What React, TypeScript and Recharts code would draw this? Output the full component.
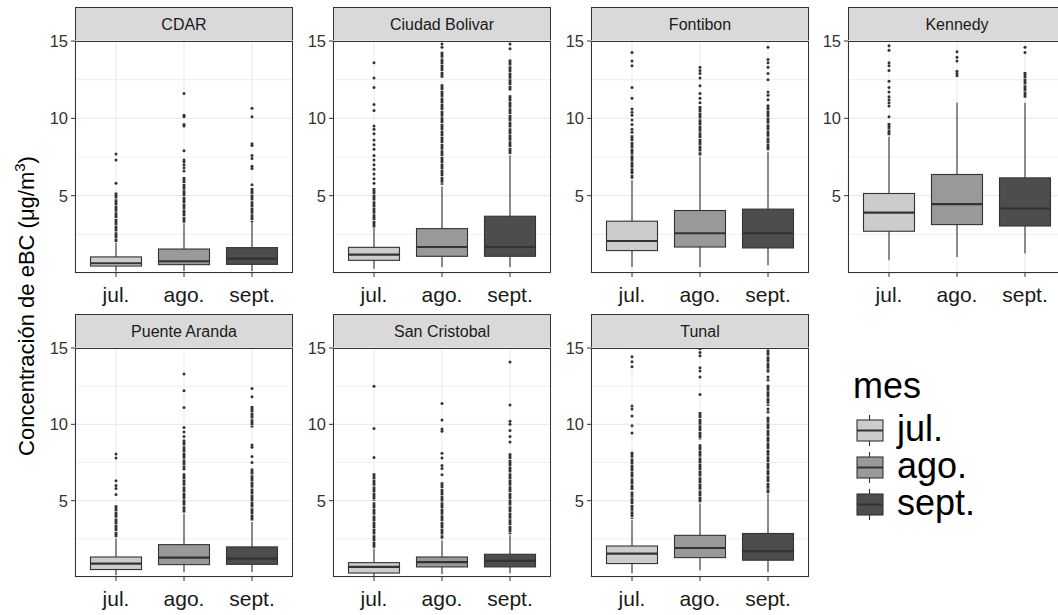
import React from 'react';
import {
  ComposedChart,
  Bar,
  Scatter,
  XAxis,
  YAxis,
  CartesianGrid,
} from 'recharts';

const months = ['jul.', 'ago.', 'sept.'];
const fills = ['#CCCCCC', '#999999', '#4D4D4D'];
const yTicks = [5, 10, 15];
const minorTicks = [2.5, 7.5, 12.5];

// per month: [lower whisker, q1, median, q3, upper whisker]
// runs = stretches where outliers sit packed together, pts = single outliers
const cdarBox = [[0.1, 0.45, 0.63, 1.04, 1.95], [0.12, 0.54, 0.76, 1.55, 3.15], [0.12, 0.56, 0.93, 1.64, 3.3]];
const cdarRuns = [[[2.0, 5.2]], [[3.2, 6.2]], [[3.3, 5.5]]];
const cdarPts = [
  [5.8, 7.3, 7.7],
  [6.6, 6.8, 7.0, 7.2, 7.3, 7.9, 9.5, 9.6, 10.1, 10.2, 11.6],
  [5.7, 6.75, 6.9, 7.4, 7.6, 8.25, 8.35, 10.1, 10.65],
];

const bolivarBox = [[0.28, 0.82, 1.19, 1.66, 2.87], [0.39, 1.08, 1.68, 2.87, 5.6], [0.39, 1.08, 1.68, 3.67, 7.62]];
const bolivarRuns = [[[2.9, 5.5]], [[5.7, 12.2], [12.6, 14.3]], [[7.7, 11.5], [11.8, 13.8]]];
const bolivarPts = [
  [5.8, 6.1, 6.4, 6.7, 7.0, 7.3, 7.6, 8.0, 8.3, 8.6, 9.0, 9.3, 9.5, 10.5, 10.9, 12.0, 12.6, 13.6],
  [14.6, 14.8],
  [14.5, 14.8],
];

const fontibonBox = [[0.39, 1.45, 2.07, 3.35, 6.0], [0.39, 1.68, 2.57, 4.04, 7.51], [0.5, 1.62, 2.57, 4.13, 7.84]];
const fontibonRuns = [[[6.1, 8.9]], [[7.6, 10.8]], [[7.9, 10.9]]];
const fontibonPts = [
  [9.1, 9.3, 9.6, 9.9, 10.2, 10.4, 10.6, 11.3, 12.0, 13.4, 13.7, 14.25],
  [11.0, 11.3, 11.6, 12.1, 12.6, 12.9, 13.1, 13.3],
  [11.2, 11.5, 11.7, 12.5, 12.9, 13.3, 13.6, 13.8, 14.6],
];

const kennedyBox = [[0.82, 2.7, 3.91, 5.14, 8.81], [1.04, 3.13, 4.45, 6.37, 11.0], [1.26, 3.04, 4.17, 6.15, 11.0]];
const kennedyRuns = [[[8.9, 9.7]], [], [[11.3, 13.0]]];
const kennedyPts = [
  [10.1, 10.8, 11.0, 11.2, 11.4, 11.7, 12.0, 12.4, 13.1, 13.4, 13.6, 14.4, 14.7],
  [12.75, 12.9, 13.05, 13.7, 13.95, 14.3],
  [14.25, 14.6],
];

const arandaBox = [[0.11, 0.49, 0.88, 1.31, 2.52], [0.33, 0.81, 1.27, 2.12, 4.16], [0.33, 0.83, 1.2, 1.97, 3.6]];
const arandaRuns = [[[2.6, 4.7]], [[4.2, 6.8], [7.0, 9.0]], [[3.7, 7.1], [9.8, 11.2]]];
const arandaPts = [
  [5.4, 5.8, 6.0, 6.3, 7.8, 8.05],
  [9.2, 9.5, 9.8, 11.1, 12.2, 13.3],
  [7.5, 7.9, 8.5, 8.65, 11.8, 12.35],
];

const cristobalBox = [[0.05, 0.26, 0.66, 0.94, 1.86], [0.2, 0.66, 0.98, 1.31, 2.41], [0.25, 0.66, 1.05, 1.49, 2.73]];
const cristobalRuns = [[[1.9, 4.9], [5.0, 6.8]], [[2.5, 6.2]], [[2.8, 8.1]]];
const cristobalPts = [
  [7.83, 9.73, 12.5],
  [6.7, 7.1, 7.3, 7.8, 8.1, 9.55, 9.7, 10.28, 11.37],
  [8.85, 9.2, 9.6, 10.0, 10.2, 11.26, 14.08],
];

const tunalBox = [[0.26, 0.88, 1.53, 2.03, 3.72], [0.44, 1.27, 1.9, 2.73, 4.81], [0.33, 1.1, 1.7, 2.85, 5.47]];
const tunalRuns = [[[3.8, 5.6], [5.7, 8.2]], [[4.9, 8.7], [9.0, 10.8]], [[5.5, 10.5], [11.2, 12.6], [13.4, 14.9]]];
const tunalPts = [
  [9.44, 9.9, 10.54, 11.0, 11.2, 13.77, 14.1, 14.43],
  [11.95, 13.1, 13.5, 13.7, 14.5, 14.7, 14.95],
  [10.8, 11.0, 12.9, 13.1],
];

const panels = [
  { name: 'CDAR', box: cdarBox, runs: cdarRuns, pts: cdarPts },
  { name: 'Ciudad Bolivar', box: bolivarBox, runs: bolivarRuns, pts: bolivarPts },
  { name: 'Fontibon', box: fontibonBox, runs: fontibonRuns, pts: fontibonPts },
  { name: 'Kennedy', box: kennedyBox, runs: kennedyRuns, pts: kennedyPts },
  { name: 'Puente Aranda', box: arandaBox, runs: arandaRuns, pts: arandaPts },
  { name: 'San Cristobal', box: cristobalBox, runs: cristobalRuns, pts: cristobalPts },
  { name: 'Tunal', box: tunalBox, runs: tunalRuns, pts: tunalPts },
];

const COL_X = [75, 333, 591, 848];
const ROWS = [{ top: 41, h: 232 }, { top: 348, h: 229 }];
const PLOT_W = 218;
const Y_AXIS_W = 40;
const X_AXIS_H = 45;
const TOP_PAD = 12; // room so the "15" label isn't cut by the svg edge
const STRIP_H = 34;
const INK = '#333333';
const FONT = '"Liberation Sans", Arial, sans-serif';

// box + whiskers + packed outliers; the bar spans [lo, hi] so y/height give the scale
function BoxShape(props: any) {
  const { x, y, width, height, payload } = props;
  if (!payload) return null;
  const top = Math.min(y, y + height);
  const h = Math.abs(height);
  const { lo, hi, q1, med, q3, runs, fill } = payload;
  const py = (v: number) => top + ((hi - v) / (hi - lo)) * h;
  const cx = x + width / 2;
  return (
    <g>
      <line x1={cx} x2={cx} y1={py(hi)} y2={py(lo)} stroke={INK} strokeWidth={1.1} />
      {runs.map(([a, b]: number[], i: number) => (
        <line
          key={i}
          x1={cx}
          x2={cx}
          y1={py(b)}
          y2={py(a)}
          stroke={INK}
          strokeWidth={2.8}
          strokeDasharray="6 0.6"
        />
      ))}
      <rect
        x={x}
        y={py(q3)}
        width={width}
        height={py(q1) - py(q3)}
        fill={fill}
        stroke={INK}
        strokeWidth={1.1}
      />
      <line x1={x} x2={x + width} y1={py(med)} y2={py(med)} stroke={INK} strokeWidth={2.2} />
    </g>
  );
}

function OutlierDot(props: any) {
  const { cx, cy } = props;
  if (cx == null || cy == null) return null;
  return <circle cx={cx} cy={cy} r={1.5} fill={INK} />;
}

function Panel({ panel, col, row }: { panel: (typeof panels)[number]; col: number; row: number }) {
  const { top, h } = ROWS[row];
  const left = COL_X[col];
  const rows = months.map((m, i) => {
    const [lo, q1, med, q3, hi] = panel.box[i];
    return { mes: m, range: [lo, hi], lo, q1, med, q3, hi, runs: panel.runs[i], fill: fills[i] };
  });
  const outliers = months.flatMap((m, i) => panel.pts[i].map((v) => ({ mes: m, v })));

  return (
    <>
      <div
        style={{
          position: 'absolute',
          left,
          top: top - STRIP_H,
          width: PLOT_W,
          height: STRIP_H + 1,
          background: '#D9D9D9',
          border: `1px solid ${INK}`,
          boxSizing: 'border-box',
          display: 'flex',
          alignItems: 'center',
          justifyContent: 'center',
          fontSize: 16,
          color: '#1A1A1A',
        }}
      >
        {panel.name}
      </div>
      <div style={{ position: 'absolute', left: left - Y_AXIS_W, top: top - TOP_PAD }}>
        <ComposedChart
          width={Y_AXIS_W + PLOT_W}
          height={h + X_AXIS_H + TOP_PAD}
          data={rows}
          margin={{ top: TOP_PAD, right: 0, bottom: 0, left: 0 }}
          barCategoryGap="12.5%"
        >
          <CartesianGrid stroke="#EBEBEB" strokeWidth={0.8} vertical={false} yAxisId="minor" />
          <CartesianGrid stroke="#EBEBEB" strokeWidth={1.1} />
          <XAxis
            dataKey="mes"
            type="category"
            allowDuplicatedCategory={false}
            padding={{ left: 7, right: 7 }}
            axisLine={false}
            tickLine={{ stroke: INK }}
            tickSize={4}
            tickMargin={10}
            tick={{ fontSize: 21, fill: '#1A1A1A' }}
            height={X_AXIS_H}
            interval={0}
          />
          <YAxis
            type="number"
            domain={[0, 15]}
            ticks={yTicks}
            allowDataOverflow
            axisLine={false}
            tickLine={{ stroke: INK }}
            tickSize={4}
            tickMargin={3}
            tick={{ fontSize: 16.5, fill: INK }}
            width={Y_AXIS_W}
          />
          <YAxis
            yAxisId="minor"
            type="number"
            domain={[0, 15]}
            ticks={minorTicks}
            allowDataOverflow
            hide
          />
          <Bar dataKey="range" shape={BoxShape} isAnimationActive={false} />
          <Scatter data={outliers} dataKey="v" shape={OutlierDot} isAnimationActive={false} />
        </ComposedChart>
      </div>
      <div
        style={{
          position: 'absolute',
          left,
          top,
          width: PLOT_W,
          height: h,
          border: `1px solid ${INK}`,
          boxSizing: 'border-box',
          pointerEvents: 'none',
        }}
      />
    </>
  );
}

export default function App() {
  return (
    <div
      style={{
        position: 'absolute',
        left: 0,
        top: 0,
        width: 1058,
        height: 615,
        overflow: 'hidden',
        background: '#FFFFFF',
        fontFamily: FONT,
      }}
    >
      {panels.map((p, i) => (
        <Panel key={p.name} panel={p} col={i % 4} row={Math.floor(i / 4)} />
      ))}

      <div
        style={{
          position: 'absolute',
          left: 25,
          top: 306,
          transform: 'translate(-50%, -50%) rotate(-90deg)',
          whiteSpace: 'nowrap',
          fontSize: 22,
          color: '#000',
        }}
      >
        Concentración de eBC (μg/m<sup style={{ fontSize: 15, verticalAlign: 9 }}>3</sup>)
      </div>

      <div style={{ position: 'absolute', left: 853, top: 366, fontSize: 36, lineHeight: '40px', color: '#000' }}>
        mes
      </div>
      {months.map((m, i) => (
        <React.Fragment key={m}>
          <svg
            style={{ position: 'absolute', left: 856, top: 415 + i * 37 }}
            width={28}
            height={31}
          >
            <line x1={13.5} x2={13.5} y1={0} y2={31} stroke={INK} strokeWidth={1.1} />
            <rect x={1} y={5} width={26} height={21} fill={fills[i]} stroke={INK} strokeWidth={1.1} />
            <line x1={1} x2={27} y1={15.5} y2={15.5} stroke={INK} strokeWidth={2} />
          </svg>
          <div
            style={{
              position: 'absolute',
              left: 897,
              top: 409 + i * 37,
              fontSize: 36,
              lineHeight: '40px',
              color: '#000',
            }}
          >
            {m}
          </div>
        </React.Fragment>
      ))}
    </div>
  );
}
